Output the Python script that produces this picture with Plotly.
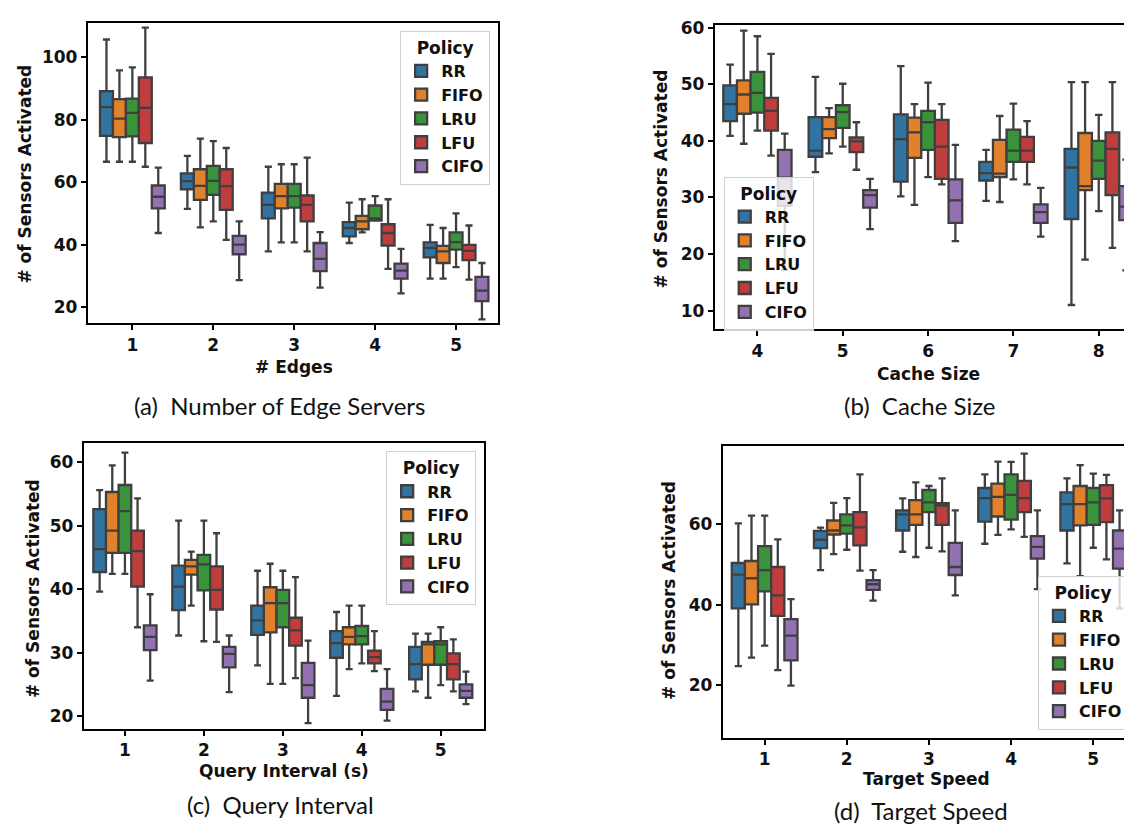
import plotly.graph_objects as go

W, H = 1132, 825

POLICIES = ["RR", "FIFO", "LRU", "LFU", "CIFO"]
COLORS = ["#3274a1", "#e1812c", "#3a923a", "#c03d3e", "#9372b2"]

# ---------------- (a) Number of Edge Servers ----------------
edges_x = [1, 2, 3, 4, 5]
edges_lower = [[66.6, 51.5, 37.9, 40.6, 29.2], [66.6, 45.6, 40.8, 44.0, 29.2], [66.6, 47.5, 40.8, 47.8, 32.9],
               [65.0, 41.6, 37.9, 32.3, 28.9], [43.8, 28.7, 26.3, 24.5, 16.2]]
edges_q1 = [[74.9, 57.8, 48.5, 42.7, 36.0], [74.5, 54.4, 51.7, 45.0, 34.2], [74.7, 56.0, 51.9, 47.8, 38.5],
            [72.6, 51.2, 47.5, 39.8, 35.1], [51.7, 37.0, 31.6, 29.2, 22.0]]
edges_med = [[84.1, 60.4, 52.8, 45.4, 39.0], [80.4, 58.9, 55.6, 47.5, 37.9], [82.2, 60.5, 55.6, 48.5, 40.9],
             [83.8, 58.8, 52.8, 43.8, 38.1], [55.4, 40.1, 35.5, 31.8, 25.4]]
edges_q3 = [[89.2, 62.9, 56.7, 47.3, 40.8], [86.6, 64.2, 59.5, 49.3, 39.7], [86.8, 65.3, 59.5, 52.6, 44.0],
            [93.6, 64.2, 55.8, 46.6, 40.0], [59.0, 42.9, 40.6, 34.0, 29.8]]
edges_upper = [[105.7, 68.5, 65.0, 53.5, 46.4], [95.8, 74.0, 65.8, 54.6, 45.4], [96.8, 73.2, 65.8, 55.6, 50.1],
               [109.5, 71.0, 67.9, 54.6, 46.2], [64.7, 47.5, 44.1, 38.7, 34.2]]

# ---------------- (b) Cache Size ----------------
cache_x = [4, 5, 6, 7, 8]
cache_lower = [[40.9, 34.5, 30.2, 29.4, 11.0], [39.5, 37.8, 28.7, 29.2, 19.0], [41.8, 39.0, 33.6, 33.2, 27.6],
               [37.4, 34.9, 32.3, 32.3, 21.1], [17.2, 24.4, 22.3, 23.1, 17.1]]
cache_q1 = [[43.5, 37.2, 32.8, 33.0, 26.2], [44.8, 40.5, 37.0, 33.6, 31.3], [45.0, 42.3, 38.4, 36.3, 33.3],
            [41.8, 38.0, 33.3, 36.3, 30.4], [28.5, 28.2, 25.5, 25.5, 26.0]]
cache_med = [[46.5, 38.3, 40.3, 34.3, 35.3], [48.2, 42.1, 41.5, 34.2, 32.0], [48.5, 45.1, 43.3, 38.3, 36.5],
             [45.3, 39.9, 39.0, 38.3, 38.6], [33.5, 30.4, 29.5, 27.4, 28.4]]
cache_q3 = [[49.8, 44.2, 44.7, 36.3, 38.6], [50.7, 44.2, 44.1, 40.2, 41.4], [52.2, 46.3, 45.3, 42.0, 40.0],
            [47.6, 40.6, 43.7, 40.7, 41.5], [38.4, 31.3, 33.2, 28.8, 32.0]]
cache_upper = [[53.5, 51.3, 53.2, 38.4, 50.4], [59.5, 45.8, 46.5, 44.4, 50.4], [58.5, 50.1, 50.3, 46.6, 44.6],
               [55.4, 43.3, 46.5, 43.5, 50.4], [41.3, 33.3, 39.3, 31.7, 36.7]]

# ---------------- (c) Query Interval ----------------
query_x = [1, 2, 3, 4, 5]
query_lower = [[39.6, 32.7, 28.0, 23.2, 23.9], [42.4, 37.4, 25.1, 27.4, 22.9], [42.4, 31.8, 25.1, 28.3, 24.9],
               [34.0, 31.7, 26.0, 27.1, 23.9], [25.6, 23.8, 18.9, 19.3, 21.9]]
query_q1 = [[42.7, 36.7, 32.8, 29.2, 25.8], [45.7, 42.3, 33.2, 31.3, 28.1], [45.7, 39.8, 34.0, 31.3, 28.1],
            [40.4, 36.8, 31.1, 28.3, 25.8], [30.4, 27.7, 22.9, 21.0, 22.9]]
query_med = [[46.3, 40.4, 35.1, 31.5, 28.2], [49.2, 43.6, 37.8, 32.5, 31.3], [52.3, 43.9, 37.8, 32.6, 31.3],
             [46.0, 39.9, 33.5, 29.3, 28.2], [32.5, 29.8, 24.9, 22.3, 24.0]]
query_q3 = [[52.6, 43.7, 37.4, 33.4, 30.9], [55.3, 44.6, 40.3, 34.0, 31.7], [56.4, 45.4, 39.9, 34.2, 31.8],
            [49.2, 43.6, 35.5, 30.3, 29.9], [34.3, 30.9, 28.4, 24.3, 25.0]]
query_upper = [[55.6, 50.8, 42.9, 36.4, 33.0], [59.5, 45.9, 44.0, 37.4, 33.0], [61.5, 50.8, 42.9, 37.4, 34.0],
               [54.3, 48.8, 41.9, 33.4, 32.1], [39.2, 32.7, 31.9, 27.4, 27.0]]

# ---------------- (d) Target Speed ----------------
speed_x = [1, 2, 3, 4, 5]
speed_lower = [[24.7, 48.6, 53.2, 55.2, 50.3], [26.8, 52.6, 51.9, 57.4, 47.1], [29.8, 53.7, 54.2, 58.8, 54.2],
               [23.7, 48.5, 53.3, 56.9, 51.3], [19.8, 41.0, 42.3, 43.9, 39.1]]
speed_q1 = [[39.1, 54.1, 58.5, 60.7, 58.5], [40.1, 57.5, 59.9, 62.0, 59.8], [43.3, 57.7, 63.1, 61.2, 59.9],
            [37.2, 54.8, 59.9, 63.1, 60.6], [26.1, 43.7, 47.4, 51.5, 49.0]]
speed_med = [[47.5, 56.2, 62.5, 66.6, 65.1], [46.6, 58.5, 62.5, 66.9, 65.1], [48.6, 59.8, 65.5, 67.4, 65.5],
             [42.3, 59.3, 64.7, 66.6, 66.5], [32.3, 45.1, 49.4, 54.4, 54.0]]
speed_q3 = [[50.4, 58.4, 63.5, 69.1, 68.0], [50.9, 61.0, 66.1, 70.2, 69.6], [54.6, 62.5, 68.6, 72.5, 69.1],
            [49.4, 63.1, 65.3, 70.9, 69.8], [36.4, 46.1, 55.4, 57.1, 58.5]]
speed_upper = [[60.3, 59.2, 66.5, 72.5, 71.5], [62.2, 65.4, 70.5, 75.7, 74.8], [62.2, 66.6, 69.6, 75.6, 72.7],
               [56.3, 72.5, 71.5, 77.7, 72.4], [41.4, 48.6, 63.5, 63.5, 63.5]]


def px(x):
    return x / W


def py(y):
    return 1 - y / H


panels = [
    (dict(lo=edges_lower, q1=edges_q1, me=edges_med, q3=edges_q3, hi=edges_upper), edges_x, "", "legend",
     (80, 491), (8, 311), [0.45, 5.52], [14.9, 111], [20, 40, 60, 80, 100]),
    (dict(lo=cache_lower, q1=cache_q1, me=cache_med, q3=cache_q3, hi=cache_upper), cache_x, "2", "legend2",
     (708, 1132), (10, 317), [3.5, 8.46], [6.7, 60.5], [10, 20, 30, 40, 50, 60]),
    (dict(lo=query_lower, q1=query_q1, me=query_med, q3=query_q3, hi=query_upper), query_x, "3", "legend3",
     (76, 477), (432, 720), [0.48, 5.55], [18.0, 62.96], [20, 30, 40, 50, 60]),
    (dict(lo=speed_lower, q1=speed_q1, me=speed_med, q3=speed_q3, hi=speed_upper), speed_x, "4", "legend4",
     (716, 1130), (435, 729), [0.49, 5.52], [6.8, 79.5], [20, 40, 60]),
]

fig = go.Figure()
LINE = "#3f3f3f"
FAM = "DejaVu Sans"
tickfont = dict(family=FAM, size=17, color="#111", weight="bold")

for data, xs, sfx, leg, xd, yd, xr, yr, yt in panels:
    for i, pol in enumerate(POLICIES):
        fig.add_trace(go.Box(
            x=xs, q1=data["q1"][i], median=data["me"][i], q3=data["q3"][i],
            lowerfence=data["lo"][i], upperfence=data["hi"][i],
            name=pol, offsetgroup=pol, fillcolor=COLORS[i],
            line=dict(color=LINE, width=2.3), whiskerwidth=0.55, boxpoints=False,
            xaxis="x" + sfx, yaxis="y" + sfx, legend=leg, showlegend=True,
        ))
    fig.layout["xaxis" + sfx] = dict(
        domain=[px(xd[0]), px(xd[1])], range=xr, anchor="y" + sfx,
        tickvals=xs, ticktext=[str(v) for v in xs], tickfont=tickfont,
        showline=True, linecolor="black", linewidth=2, mirror=True,
        ticks="outside", ticklen=5, tickwidth=1.5, tickcolor="black",
        showgrid=False, zeroline=False)
    fig.layout["yaxis" + sfx] = dict(
        domain=[py(yd[1]), py(yd[0])], range=yr, anchor="x" + sfx,
        tickvals=yt, tickfont=tickfont,
        showline=True, linecolor="black", linewidth=2, mirror=True,
        ticks="outside", ticklen=5, tickwidth=1.5, tickcolor="black",
        showgrid=False, zeroline=False)

legfont = dict(family=FAM, size=16, color="#111", weight="bold")
legtitle = dict(text="Policy", side="top center",
                font=dict(family=FAM, size=17, color="#111", weight="bold"))
common_leg = dict(font=legfont, title=legtitle, bgcolor="rgba(255,255,255,0.8)",
                  bordercolor="#d0d0d0", borderwidth=1, tracegroupgap=0, itemwidth=30)

fig.update_layout(
    width=W, height=H, margin=dict(l=0, r=0, t=0, b=0),
    paper_bgcolor="white", plot_bgcolor="white",
    boxmode="group", boxgap=0.2, boxgroupgap=0.0,
    legend=dict(x=px(483), y=py(16), xanchor="right", yanchor="top", **common_leg),
    legend2=dict(x=px(717), y=py(163), xanchor="left", yanchor="top", **common_leg),
    legend3=dict(x=px(469), y=py(440), xanchor="right", yanchor="top", **common_leg),
    legend4=dict(x=px(1122), y=py(721), xanchor="right", yanchor="bottom", **common_leg),
)

ann = []
titlefont = dict(family=FAM, size=17, color="#111", weight="bold")
capfont = dict(family="Lato", size=24, color="#111")
for text, x, y in [("# Edges", 287, 355), ("Cache Size", 922, 362),
                   ("Query Interval (s)", 276, 762), ("Target Speed", 920, 771)]:
    ann.append(dict(text=text, x=px(x), y=py(y), xref="paper", yref="paper",
                    showarrow=False, font=titlefont, xanchor="center", yanchor="middle"))
for x, y in [(17, 160), (654, 165), (25, 578), (662, 580)]:
    ann.append(dict(text="# of Sensors Activated", x=px(x), y=py(y), xref="paper", yref="paper",
                    showarrow=False, font=titlefont, textangle=-90, xanchor="center", yanchor="middle"))
for text, x, y in [("(a)  Number of Edge Servers", 272, 394), ("(b)  Cache Size", 913, 394),
                   ("(c)  Query Interval", 273, 796), ("(d)  Target Speed", 915, 802)]:
    ann.append(dict(text=text, x=px(x), y=py(y), xref="paper", yref="paper",
                    showarrow=False, font=capfont, xanchor="center", yanchor="middle"))
fig.update_layout(annotations=ann)

fig.write_html("out.html")
